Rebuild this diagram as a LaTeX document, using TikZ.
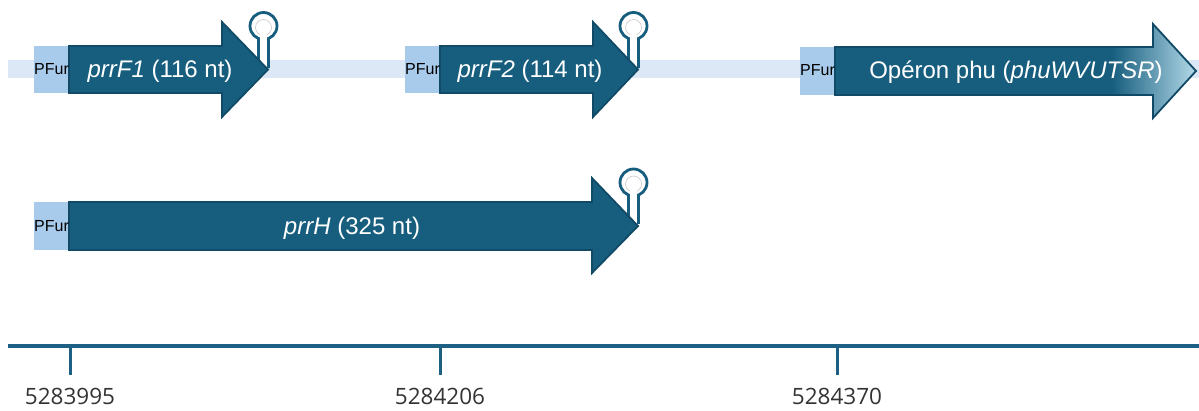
\documentclass[tikz,border=0pt]{standalone}
\usepackage{fontspec}
\setmainfont{Liberation Sans}
\newfontfamily\axisfont{Open Sans}
\definecolor{gene}{HTML}{175E7E}
\definecolor{geneedge}{HTML}{104A66}
\definecolor{pfur}{HTML}{A9CBEB}
\definecolor{band}{HTML}{DCE8F5}
\definecolor{axiscol}{HTML}{1D6083}
\definecolor{fade}{HTML}{B8DDEC}
\definecolor{labelgray}{HTML}{333333}
\begin{document}
\begin{tikzpicture}[x=1pt,y=-1pt,
  genebody/.style={fill=gene,draw=geneedge,line width=1.8pt,line join=miter},
  promoter/.style={fill=pfur},
  pfurtext/.style={font=\fontsize{16}{16}\selectfont,text=black,anchor=base,inner sep=0pt},
  genetext/.style={font=\fontsize{24}{24}\selectfont,text=white,anchor=base,inner sep=0pt},
  axistext/.style={font=\axisfont\fontsize{22.5}{22.5}\selectfont,text=labelgray,anchor=base,inner sep=0pt},
  termline/.style={draw=gene,line width=2.8pt},
  axisline/.style={draw=axiscol,line width=4pt},
  ticksline/.style={draw=axiscol,line width=3pt},
  terminator/.pic={
    \fill[white] (-9.5,-43.5) rectangle (0.5,-1);
    \draw[termline,fill=white] (-4.5,-43.5) circle[radius=13.5];
    \draw[black!25,line width=0.5pt] (-4.5,-42) circle[radius=8];
    \fill[white] (-8,-40) rectangle (-1,-1);
    \draw[termline] (-9.5,-31.5) -- (-9.5,0);
    \draw[termline] (0.5,-31.5) -- (0.5,-2);
  }
]
\useasboundingbox (0,0) rectangle (1199,410);

% track band
\fill[band] (8,60) rectangle (1199,78);

% ---- prrF1
\pic at (268,69.5) {terminator};
\fill[promoter] (34,46) rectangle (69,93);
\draw[genebody] (69,46) -- (222,46) -- (222,22) -- (268,69.5) -- (222,117) -- (222,93) -- (69,93) -- cycle;
\node[pfurtext] (p1) at (51.5,74.5) {PFur};
\node[genetext] (t1) at (160,77.5) {\textit{prrF1} (116 nt)};

% ---- prrF2
\pic at (638,69.5) {terminator};
\fill[promoter] (405,46) rectangle (440,93);
\draw[genebody] (440,46) -- (593,46) -- (593,22) -- (638,69.5) -- (593,117) -- (593,93) -- (440,93) -- cycle;
\node[pfurtext] (p2) at (422.5,74.5) {PFur};
\node[genetext] (t2) at (530,77.5) {\textit{prrF2} (114 nt)};

% ---- phu operon
\fill[promoter] (800,47) rectangle (835,95);
\fill[gene] (835,47) -- (1153,47) -- (1153,24) -- (1196,71) -- (1153,118) -- (1153,95) -- (835,95) -- cycle;
\begin{scope}
  \clip (835,47) -- (1153,47) -- (1153,24) -- (1196,71) -- (1153,118) -- (1153,95) -- (835,95) -- cycle;
  \shade[left color=gene,right color=fade] (1112,20) rectangle (1199,122);
\end{scope}
\draw[draw=geneedge,line width=1.8pt] (835,47) -- (1153,47) -- (1153,24) -- (1196,71) -- (1153,118) -- (1153,95) -- (835,95) -- cycle;
\node[pfurtext] (p3) at (817.5,75.5) {PFur};
\node[genetext] (t3) at (1016,78) {Opéron phu (\textit{phuWVUTSR})};

% ---- prrH
\pic at (638,226) {terminator};
\fill[promoter] (34,202) rectangle (69,250);
\draw[genebody] (69,202) -- (592,202) -- (592,178) -- (638,226) -- (592,273) -- (592,250) -- (69,250) -- cycle;
\node[pfurtext] (p4) at (51.5,231.5) {PFur};
\node[genetext] (t4) at (352,234) {\textit{prrH} (325 nt)};

% ---- axis
\coordinate (a0) at (8,346);
\coordinate (a1) at (1199,346);
\draw[axisline] (a0) -- (a1);
\coordinate (k1) at (70,346);
\coordinate (k2) at (440,346);
\coordinate (k3) at (837,346);
\coordinate (k1e) at (70,375);
\coordinate (k2e) at (440,375);
\coordinate (k3e) at (837,375);
\draw[ticksline] (k1) -- (k1e);
\draw[ticksline] (k2) -- (k2e);
\draw[ticksline] (k3) -- (k3e);
\node[axistext] (l1) at (70,404) {5283995};
\node[axistext] (l2) at (440,404) {5284206};
\node[axistext] (l3) at (837,404) {5284370};
\end{tikzpicture}
\end{document}
